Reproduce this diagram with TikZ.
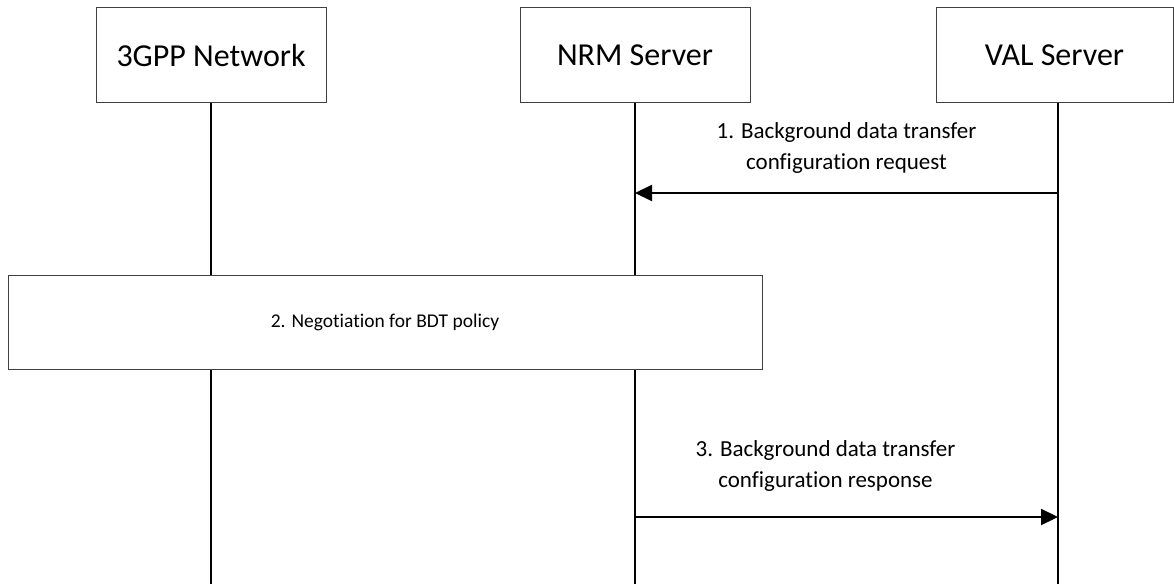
\documentclass[tikz,border=0pt]{standalone}
\usepackage{fontspec}
\setmainfont{Carlito}[Ligatures=NoCommon]
\usetikzlibrary{arrows.meta, positioning}

\begin{document}
\begin{tikzpicture}[
    x=1pt, y=1pt,
    head/.style={rectangle, draw=black!75, line width=1pt, minimum width=230pt, minimum height=95pt, font=\fontsize{32}{38}\selectfont},
    phase/.style={rectangle, draw=black!75, fill=white, line width=1pt, minimum width=754pt, minimum height=93pt, font=\fontsize{19.5}{31}\selectfont},
    life/.style={line width=1.8pt},
    msg/.style={line width=2.2pt, -{Triangle[length=17pt, width=16pt]}},
    note/.style={align=center, font=\fontsize{23}{31}\selectfont},
  ]
    \useasboundingbox (0,0) rectangle (1174,584);

    % Nodes
    \node[head] (net) at (211,528.5) {3GPP Network};
    \node[head] (nrm) at (635,528.5) {NRM Server};
    \node[head, minimum width=237pt] (val) at (1054.5,528.5) {VAL Server};
    \coordinate (netend) at (211,0);
    \coordinate (nrmend) at (635,0);
    \coordinate (valend) at (1058,0);

    % Lifelines
    \draw[life] (net.south) -- (netend);
    \draw[life] (nrm.south) -- (nrmend);
    \draw[life] (val.south -| valend) -- (valend);

    \node[phase] (bdt) at (385,261.5) {2. Negotiation for BDT policy};
    \coordinate (req) at (1058,391);
    \coordinate (reqend) at (635,391);
    \coordinate (rsp) at (635,67);
    \coordinate (rspend) at (1058,67);

    % Arrows
    \draw[msg] (req) -- node[note, above=15pt] {1. Background data transfer\\configuration request} (reqend);
    \draw[msg] (rsp) -- node[note, above=21pt, xshift=-21pt] {3. Background data transfer\\configuration response} (rspend);

  \end{tikzpicture}
\end{document}
